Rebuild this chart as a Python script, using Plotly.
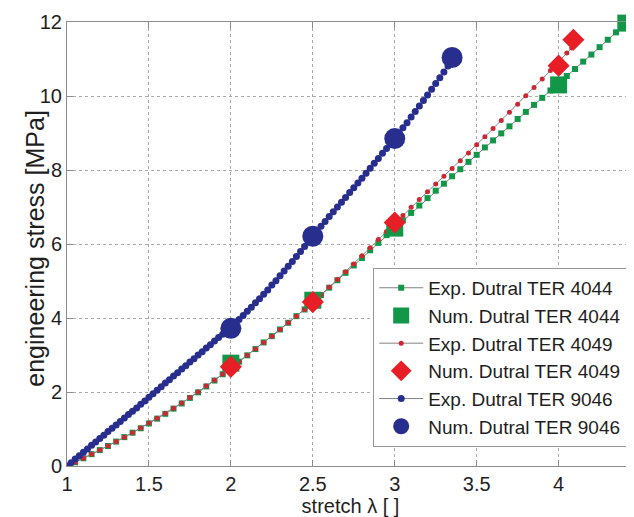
import plotly.graph_objects as go

# ---------------- data ----------------
exp_4044_x = [1.00, 1.05, 1.10, 1.15, 1.20, 1.25, 1.30, 1.35, 1.40, 1.45, 1.50, 1.55, 1.60, 1.65, 1.70,
              1.75, 1.80, 1.85, 1.90, 1.95, 2.00, 2.05, 2.10, 2.15, 2.20, 2.25, 2.30, 2.35, 2.40, 2.45,
              2.50, 2.55, 2.60, 2.65, 2.70, 2.75, 2.80, 2.85, 2.90, 2.95, 3.00, 3.05, 3.10, 3.15, 3.20,
              3.25, 3.30, 3.35, 3.40, 3.45, 3.50, 3.55, 3.60, 3.65, 3.70, 3.75, 3.80, 3.85, 3.90, 3.95,
              4.00, 4.05, 4.10, 4.15, 4.20, 4.25, 4.30, 4.35, 4.40, 4.42]
exp_4044_y = [0.00, 0.10, 0.21, 0.32, 0.43, 0.54, 0.66, 0.78, 0.90, 1.02, 1.15, 1.28, 1.41, 1.55, 1.69,
              1.84, 1.99, 2.15, 2.31, 2.48, 2.65, 2.82, 2.99, 3.16, 3.34, 3.51, 3.69, 3.87, 4.05, 4.23,
              4.42, 4.62, 4.82, 5.02, 5.22, 5.42, 5.62, 5.83, 6.03, 6.24, 6.44, 6.64, 6.84, 7.04, 7.24,
              7.44, 7.63, 7.83, 8.02, 8.22, 8.41, 8.61, 8.80, 8.99, 9.18, 9.38, 9.57, 9.76, 9.95, 10.15,
              10.34, 10.54, 10.73, 10.93, 11.12, 11.32, 11.52, 11.72, 11.92, 11.99]

exp_4049_x = [1.00, 1.05, 1.10, 1.15, 1.20, 1.25, 1.30, 1.35, 1.40, 1.45, 1.50, 1.55, 1.60, 1.65, 1.70,
              1.75, 1.80, 1.85, 1.90, 1.95, 2.00, 2.05, 2.10, 2.15, 2.20, 2.25, 2.30, 2.35, 2.40, 2.45,
              2.50, 2.55, 2.60, 2.65, 2.70, 2.75, 2.80, 2.85, 2.90, 2.95, 3.00, 3.05, 3.10, 3.15, 3.20,
              3.25, 3.30, 3.35, 3.40, 3.45, 3.50, 3.55, 3.60, 3.65, 3.70, 3.75, 3.80, 3.85, 3.90, 3.95,
              4.00, 4.05, 4.08]
exp_4049_y = [0.00, 0.10, 0.21, 0.32, 0.43, 0.54, 0.66, 0.78, 0.90, 1.03, 1.16, 1.29, 1.42, 1.56, 1.70,
              1.85, 2.00, 2.16, 2.32, 2.48, 2.65, 2.82, 2.99, 3.16, 3.34, 3.51, 3.69, 3.87, 4.05, 4.23,
              4.42, 4.62, 4.83, 5.04, 5.25, 5.46, 5.68, 5.90, 6.12, 6.34, 6.56, 6.77, 6.99, 7.20, 7.41,
              7.62, 7.83, 8.04, 8.25, 8.46, 8.68, 8.90, 9.12, 9.34, 9.56, 9.78, 10.01, 10.23, 10.46, 10.69,
              10.92, 11.16, 11.30]

exp_9046_x = [1.000, 1.025, 1.050, 1.075, 1.100, 1.125, 1.150, 1.175, 1.200, 1.225, 1.250, 1.275,
              1.300, 1.325, 1.350, 1.375, 1.400, 1.425, 1.450, 1.475, 1.500, 1.525, 1.550, 1.575,
              1.600, 1.625, 1.650, 1.675, 1.700, 1.725, 1.750, 1.775, 1.800, 1.825, 1.850, 1.875,
              1.900, 1.925, 1.950, 1.975, 2.000, 2.025, 2.050, 2.075, 2.100, 2.125, 2.150, 2.175,
              2.200, 2.225, 2.250, 2.275, 2.300, 2.325, 2.350, 2.375, 2.400, 2.425, 2.450, 2.475,
              2.500, 2.525, 2.550, 2.575, 2.600, 2.625, 2.650, 2.675, 2.700, 2.725, 2.750, 2.775,
              2.800, 2.825, 2.850, 2.875, 2.900, 2.925, 2.950, 2.975, 3.000, 3.025, 3.050, 3.075,
              3.100, 3.125, 3.150, 3.175, 3.200, 3.225, 3.250, 3.275, 3.300, 3.325, 3.350]
exp_9046_y = [0.00, 0.09, 0.19, 0.28, 0.37, 0.46, 0.56, 0.65, 0.74, 0.83, 0.93, 1.02,
              1.11, 1.20, 1.30, 1.39, 1.48, 1.57, 1.67, 1.76, 1.86, 1.95, 2.05, 2.14,
              2.24, 2.33, 2.43, 2.52, 2.62, 2.71, 2.81, 2.90, 3.00, 3.09, 3.19, 3.28,
              3.38, 3.47, 3.56, 3.65, 3.74, 3.85, 3.96, 4.07, 4.18, 4.29, 4.41, 4.52,
              4.64, 4.76, 4.89, 5.01, 5.14, 5.27, 5.40, 5.53, 5.66, 5.80, 5.93, 6.07,
              6.21, 6.34, 6.48, 6.61, 6.74, 6.87, 7.00, 7.13, 7.26, 7.39, 7.52, 7.65,
              7.78, 7.91, 8.05, 8.18, 8.31, 8.45, 8.58, 8.72, 8.85, 8.99, 9.14, 9.28,
              9.43, 9.58, 9.73, 9.88, 10.03, 10.18, 10.34, 10.49, 10.65, 10.81, 10.97]

num_4044_x = [2.0, 2.5, 3.0, 4.0, 4.41]
num_4044_y = [2.78, 4.48, 6.43, 10.30, 11.97]
num_4049_x = [2.0, 2.5, 3.0, 4.0, 4.09]
num_4049_y = [2.68, 4.43, 6.58, 10.82, 11.52]
num_9046_x = [2.0, 2.5, 3.0, 3.35]
num_9046_y = [3.72, 6.21, 8.85, 11.04]

x_ticks = [1, 1.5, 2, 2.5, 3, 3.5, 4]
x_tick_labels = ["1", "1.5", "2", "2.5", "3", "3.5", "4"]
y_ticks = [0, 2, 4, 6, 8, 10, 12]

GREEN = "rgb(18,150,72)"
RED = "rgb(232,30,38)"
RED_D = "rgb(205,40,50)"
BLUE = "rgb(40,46,142)"
LINE = "rgb(130,130,130)"
FONT = "Liberation Sans, Arial"
TXT = "rgb(30,30,30)"

fig = go.Figure()

fig.add_trace(go.Scatter(x=exp_4044_x, y=exp_4044_y, mode="lines+markers",
                         name="Exp. Dutral TER 4044",
                         line=dict(color=LINE, width=1),
                         marker=dict(symbol="square", size=6, color=GREEN)))
fig.add_trace(go.Scatter(x=exp_4049_x, y=exp_4049_y, mode="lines+markers",
                         name="Exp. Dutral TER 4049",
                         line=dict(color=LINE, width=1),
                         marker=dict(symbol="circle", size=5, color=RED_D)))
fig.add_trace(go.Scatter(x=exp_9046_x, y=exp_9046_y, mode="lines+markers",
                         name="Exp. Dutral TER 9046",
                         line=dict(color=LINE, width=1),
                         marker=dict(symbol="circle", size=7, color=BLUE)))
fig.add_trace(go.Scatter(x=num_4044_x, y=num_4044_y, mode="markers",
                         name="Num. Dutral TER 4044", cliponaxis=False,
                         marker=dict(symbol="square", size=17, color=GREEN)))
fig.add_trace(go.Scatter(x=num_4049_x, y=num_4049_y, mode="markers",
                         name="Num. Dutral TER 4049", cliponaxis=False,
                         marker=dict(symbol="diamond", size=17, color=RED)))
fig.add_trace(go.Scatter(x=num_9046_x, y=num_9046_y, mode="markers",
                         name="Num. Dutral TER 9046", cliponaxis=False,
                         marker=dict(symbol="circle", size=21, color=BLUE)))

axis_common = dict(
    showgrid=True, gridcolor="rgb(170,170,170)", griddash="dot", gridwidth=1,
    showline=True, linecolor="rgb(140,140,140)", linewidth=1, mirror="ticks",
    ticks="inside", ticklen=6, tickcolor="rgb(140,140,140)",
    zeroline=False, automargin=False,
    tickfont=dict(size=20, color=TXT, family=FONT),
)

# The page places the figure 8 px in from the top-left corner,
# so the figure is sized to fill the remaining window area.
fig.update_layout(
    width=626, height=509,
    margin=dict(l=59, r=0, t=14, b=51),
    paper_bgcolor="white", plot_bgcolor="white",
    font=dict(family=FONT, color=TXT),
    showlegend=True,
    legend=dict(
        x=0.988, y=0.043, xanchor="right", yanchor="bottom",
        bgcolor="white", bordercolor="rgb(150,150,150)", borderwidth=1,
        font=dict(size=19, color=TXT, family=FONT),
        itemwidth=44, tracegroupgap=0, traceorder="normal",
    ),
    xaxis=dict(range=[1, 4.46], tickvals=x_ticks, ticktext=x_tick_labels,
               title=dict(text="stretch λ [ ]", standoff=2,
                          font=dict(size=20, family=FONT)),
               **axis_common),
    yaxis=dict(range=[0, 12], tickvals=y_ticks, **axis_common),
    annotations=[dict(
        text="engineering stress [MPa]", textangle=-90,
        xref="paper", yref="paper", x=-0.056, y=0.49,
        xanchor="center", yanchor="middle", showarrow=False,
        font=dict(size=25, color=TXT, family=FONT),
    )],
)

# legend order as in the reference: Exp/Num pairs per material
order = [0, 3, 1, 4, 2, 5]
for rank, idx in enumerate(order):
    fig.data[idx].legendrank = rank + 1

fig.write_html("out.html")
